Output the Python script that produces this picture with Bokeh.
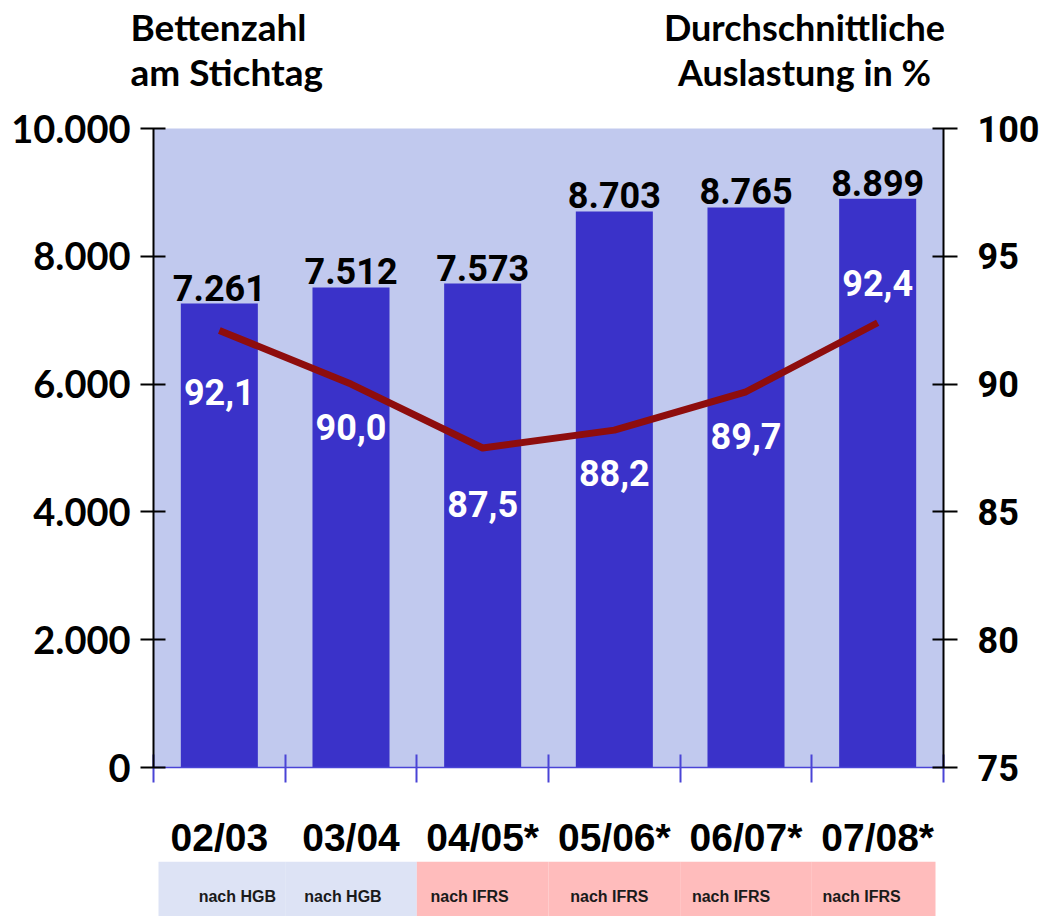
from bokeh.plotting import figure
from bokeh.models import (Range1d, LinearAxis, FixedTicker, ColumnDataSource)
from bokeh.core.properties import value
from bokeh.embed import file_html
from bokeh.resources import INLINE

# ---------------- data ----------------
periods = ["02/03", "03/04", "04/05*", "05/06*", "06/07*", "07/08*"]
beds = [7261, 7512, 7573, 8703, 8765, 8899]
occupancy = [92.1, 90.0, 87.5, 88.2, 89.7, 92.4]
standards = ["nach HGB", "nach HGB", "nach IFRS", "nach IFRS", "nach IFRS", "nach IFRS"]
left_ticks = [0, 2000, 4000, 6000, 8000, 10000]
left_tick_labels = ["0", "2.000", "4.000", "6.000", "8.000", "10.000"]
right_ticks = [75, 80, 85, 90, 95, 100]
right_tick_labels = ["75", "80", "85", "90", "95", "100"]
left_title = ["Bettenzahl", "am Stichtag"]
right_title = ["Durchschnittliche", "Auslastung in %"]

# ---------------- styles ----------------
BG = "#c1c9ee"
BAR = "#3a32c9"
LINE = "#8e0d0d"
TICKBLUE = "#4a44d6"
HGB_COL = "#dde3f5"
IFRS_COL = "#ffbcbc"
pct_label_offsets = [62, 43, 56, 43, 44, -40]   # px below (+) / above (-) line point
band_text_offsets = [18, -8, -13, -5, -15, -16]  # px horizontal shift
title_rows_px = [26, 71]                          # vertical centres of the two title rows

n = len(periods)
centers = [i + 0.5 for i in range(n)]
boundaries = list(range(n + 1))

W = 1046
H_TOP = 100
frame_left, frame_right = 153, 943
frame_top, frame_bottom = 128, 767          # page coordinates
H_MAIN = 861 - H_TOP
H_BAND = 916 - H_TOP - H_MAIN
px_per_unit = (frame_right - frame_left) / n

# ---------------- title strip ----------------
t = figure(width=W, height=H_TOP, output_backend="svg", toolbar_location=None,
           x_range=Range1d(0, W), y_range=Range1d(H_TOP, 0),
           x_axis_location=None, y_axis_location=None,
           min_border_left=0, min_border_right=0, min_border_top=0, min_border_bottom=0)
t.outline_line_color = None
t.xgrid.visible = False
t.ygrid.visible = False
t.background_fill_color = "white"
t.border_fill_color = "white"
t.text(x=[130, 130], y=title_rows_px, text=left_title, text_align="left",
       text_baseline="middle", text_font=value("Lato"), text_font_style="bold",
       text_font_size="37px", text_color="black")
t.text(x=[804, 804], y=title_rows_px, text=right_title, text_align="center",
       text_baseline="middle", text_font=value("Lato"), text_font_style="bold",
       text_font_size="36px", text_color="black")

# ---------------- main chart ----------------
p = figure(width=W, height=H_MAIN, output_backend="svg", toolbar_location=None,
           x_range=Range1d(0, n), y_range=Range1d(0, 10000),
           x_axis_location=None, y_axis_location=None,
           min_border_left=frame_left, min_border_right=W - frame_right,
           min_border_top=frame_top - H_TOP,
           min_border_bottom=H_TOP + H_MAIN - frame_bottom)
p.background_fill_color = BG
p.border_fill_color = "white"
p.outline_line_color = None
p.xgrid.visible = False
p.ygrid.visible = False
p.extra_y_ranges = {"pct": Range1d(75, 100)}

ya = LinearAxis(ticker=FixedTicker(ticks=left_ticks),
                major_label_overrides={k: l for k, l in zip(left_ticks, left_tick_labels)})
ya.axis_line_color = "black"
ya.axis_line_width = 2
ya.major_tick_line_color = "black"
ya.major_tick_line_width = 2
ya.major_tick_in = 12
ya.major_tick_out = 13
ya.minor_tick_line_color = None
ya.major_label_standoff = 10
ya.major_label_text_font = "Lato"
ya.major_label_text_font_style = "bold"
ya.major_label_text_font_size = "38px"
ya.major_label_text_color = "black"
p.add_layout(ya, "left")

ya2 = LinearAxis(y_range_name="pct", ticker=FixedTicker(ticks=right_ticks),
                 major_label_overrides={k: l for k, l in zip(right_ticks, right_tick_labels)})
ya2.axis_line_color = "black"
ya2.axis_line_width = 2
ya2.major_tick_line_color = "black"
ya2.major_tick_line_width = 2
ya2.major_tick_in = 11
ya2.major_tick_out = 14
ya2.minor_tick_line_color = None
ya2.major_label_standoff = 20
ya2.major_label_text_font = "Roboto"
ya2.major_label_text_font_style = "bold"
ya2.major_label_text_font_size = "36px"
ya2.major_label_text_color = "black"
p.add_layout(ya2, "right")

xa = LinearAxis(ticker=FixedTicker(ticks=centers, minor_ticks=boundaries),
                major_label_overrides={c: l for c, l in zip(centers, periods)})
xa.axis_line_color = TICKBLUE
xa.axis_line_width = 1.5
xa.major_tick_in = 0
xa.major_tick_out = 0
xa.major_tick_line_color = None
xa.minor_tick_line_color = TICKBLUE
xa.minor_tick_line_width = 2
xa.minor_tick_in = 13
xa.minor_tick_out = 15
xa.major_label_standoff = 33
xa.major_label_text_font = "Liberation Sans"
xa.major_label_text_font_style = "bold"
xa.major_label_text_font_size = "39px"
xa.major_label_text_color = "black"
p.add_layout(xa, "below")

src = ColumnDataSource(dict(
    x=centers, beds=beds, pct=occupancy,
    bed_lab=[f"{v:,}".replace(",", ".") for v in beds],
    pct_lab=[f"{v:.1f}".replace(".", ",") for v in occupancy],
    pct_off=pct_label_offsets,
))

p.vbar(x="x", top="beds", width=0.585, source=src, fill_color=BAR, line_color=None)
p.line(x="x", y="pct", source=src, y_range_name="pct", line_color=LINE, line_width=7,
       line_join="round")
p.text(x="x", y="beds", text="bed_lab", source=src, text_align="center",
       text_baseline="bottom", y_offset=-3, text_font=value("Roboto"),
       text_font_style="bold", text_font_size="36px", text_color="black")
p.text(x="x", y="pct", text="pct_lab", source=src, y_range_name="pct",
       y_offset="pct_off", text_align="center", text_baseline="middle",
       text_font=value("Roboto"), text_font_style="bold", text_font_size="36px",
       text_color="white")

# ---------------- bottom band ----------------
band_left_px, band_right_px = 158, 935
b = figure(width=W, height=H_BAND, output_backend="svg", toolbar_location=None,
           x_range=Range1d(-frame_left / px_per_unit, (W - frame_left) / px_per_unit),
           y_range=Range1d(0, 1), x_axis_location=None, y_axis_location=None,
           min_border_left=0, min_border_right=0, min_border_top=0, min_border_bottom=0)
b.outline_line_color = None
b.xgrid.visible = False
b.ygrid.visible = False
b.border_fill_color = "white"
b.background_fill_color = "white"

first_left = (band_left_px - frame_left) / px_per_unit
last_right = (band_right_px - frame_left) / px_per_unit
bsrc = ColumnDataSource(dict(
    left=[first_left if i == 0 else i for i in range(n)],
    right=[last_right if i == n - 1 else i + 1 for i in range(n)],
    x=centers,
    txt=standards,
    col=[HGB_COL if s.endswith("HGB") else IFRS_COL for s in standards],
    xo=band_text_offsets,
))
b.quad(left="left", right="right", bottom=0, top=1, source=bsrc, fill_color="col",
       line_color=None)
b.text(x="x", y=0.36, text="txt", source=bsrc, x_offset="xo", text_align="center",
       text_baseline="middle", text_font=value("Liberation Sans"),
       text_font_style="bold", text_font_size="16px", text_color="#1a1a1a")

open("out.html", "w").write(file_html([t, p, b], INLINE))
